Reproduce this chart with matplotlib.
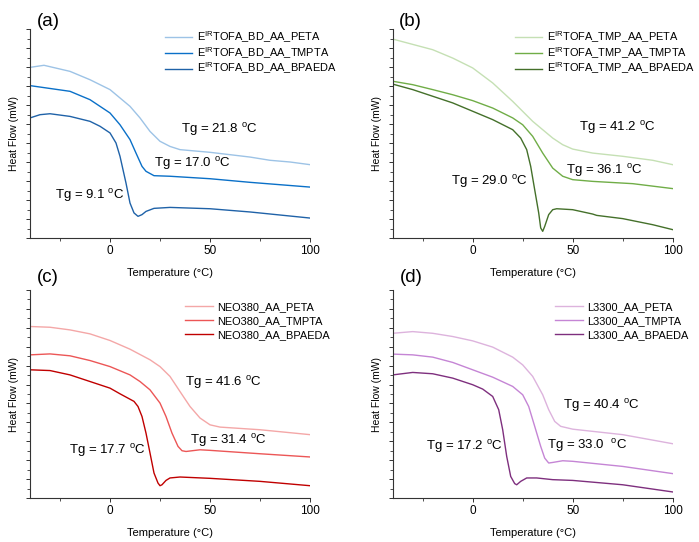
import matplotlib
matplotlib.use("Agg")
import matplotlib.pyplot as plt
from matplotlib.ticker import MultipleLocator

plt.rcParams['font.family'] = ['Liberation Sans', 'DejaVu Sans']
plt.rcParams['mathtext.fontset'] = 'custom'
plt.rcParams['mathtext.rm'] = 'Liberation Sans'
plt.rcParams['mathtext.it'] = 'Liberation Sans:italic'

# ---------------- Panel (a) ----------------
a_peta_T = [-40, -33, -20, -10, 0, 10, 15, 20, 25, 30, 35, 50, 70, 80, 90, 100]
a_peta_y = [8.98, 9.09, 8.77, 8.33, 7.81, 6.93, 6.32, 5.61, 5.09, 4.82, 4.65, 4.51, 4.26, 4.09, 4.0, 3.86]
a_tmpta_T = [-40, -20, -10, 0, 5, 10, 13, 16, 18, 22, 30, 50, 70, 100]
a_tmpta_y = [8.02, 7.72, 7.28, 6.58, 5.96, 5.18, 4.47, 3.77, 3.51, 3.28, 3.25, 3.12, 2.93, 2.68]
a_bpa_T = [-40, -35, -30, -20, -10, -5, 0, 3, 5, 8, 10, 12, 14, 16, 18, 22, 30, 50, 70, 100]
a_bpa_y = [6.32, 6.49, 6.54, 6.40, 6.14, 5.88, 5.53, 5.0, 4.3, 2.89, 1.84, 1.32, 1.14, 1.23, 1.40, 1.56, 1.61, 1.54, 1.37, 1.05]
a_labels = [r'E$^{\mathrm{IR}}$TOFA_BD_AA_PETA', r'E$^{\mathrm{IR}}$TOFA_BD_AA_TMPTA',
            r'E$^{\mathrm{IR}}$TOFA_BD_AA_BPAEDA']
a_tg = ['21.8', '17.0', '9.1']

# ---------------- Panel (b) ----------------
b_peta_T = [-40, -20, -10, 0, 10, 20, 30, 40, 45, 50, 60, 75, 90, 100]
b_peta_y = [10.47, 9.91, 9.47, 8.95, 8.16, 7.19, 6.14, 5.26, 4.91, 4.68, 4.47, 4.30, 4.09, 3.86]
b_tmpta_T = [-40, -30, -20, -10, 0, 10, 20, 25, 30, 35, 40, 45, 50, 60, 80, 100]
b_tmpta_y = [8.25, 8.07, 7.81, 7.54, 7.23, 6.84, 6.32, 5.96, 5.35, 4.47, 3.68, 3.25, 3.07, 2.98, 2.86, 2.60]
b_bpa_T = [-40, -30, -20, -10, 0, 10, 20, 24, 27, 29, 31, 33, 34, 35, 36, 38, 40, 42, 50, 60, 62, 75, 90, 100]
b_bpa_y = [8.10, 7.81, 7.46, 7.11, 6.67, 6.23, 5.70, 5.26, 4.65, 3.77, 2.54, 1.32, 0.53, 0.35, 0.61, 1.23, 1.49, 1.54, 1.49, 1.26, 1.19, 1.02, 0.70, 0.44]
b_labels = [r'E$^{\mathrm{IR}}$TOFA_TMP_AA_PETA', r'E$^{\mathrm{IR}}$TOFA_TMP_AA_TMPTA',
            r'E$^{\mathrm{IR}}$TOFA_TMP_AA_BPAEDA']
b_tg = ['41.2', '36.1', '29.0']

# ---------------- Panel (c) ----------------
c_peta_T = [-40, -30, -20, -10, 0, 10, 20, 25, 30, 35, 40, 45, 50, 55, 75, 100]
c_peta_y = [9.07, 9.03, 8.89, 8.68, 8.33, 7.87, 7.31, 6.95, 6.43, 5.63, 4.84, 4.23, 3.87, 3.75, 3.61, 3.35]
c_tmpta_T = [-40, -30, -20, -10, 0, 10, 15, 20, 25, 28, 31, 34, 36, 38, 45, 50, 75, 100]
c_tmpta_y = [7.57, 7.62, 7.52, 7.27, 6.95, 6.51, 6.16, 5.72, 5.02, 4.31, 3.43, 2.73, 2.50, 2.46, 2.55, 2.52, 2.34, 2.17]
c_bpa_T = [-40, -30, -20, -10, 0, 5, 12, 14, 16, 18, 20, 22, 24, 25, 26, 28, 30, 35, 50, 75, 100]
c_bpa_y = [6.78, 6.74, 6.51, 6.16, 5.81, 5.51, 5.11, 4.84, 4.31, 3.43, 2.38, 1.32, 0.79, 0.65, 0.70, 0.93, 1.06, 1.11, 1.04, 0.88, 0.65]
c_labels = ['NEO380_AA_PETA', 'NEO380_AA_TMPTA', 'NEO380_AA_BPAEDA']
c_tg = ['41.6', '31.4', '17.7']

# ---------------- Panel (d) ----------------
d_peta_T = [-40, -30, -20, -10, 0, 10, 20, 25, 30, 35, 38, 41, 44, 50, 75, 100]
d_peta_y = [8.71, 8.80, 8.71, 8.54, 8.31, 7.98, 7.45, 7.04, 6.43, 5.46, 4.67, 4.05, 3.79, 3.64, 3.35, 2.87]
d_tmpta_T = [-40, -30, -20, -10, 0, 10, 20, 25, 28, 31, 34, 36, 38, 40, 45, 50, 75, 100]
d_tmpta_y = [7.61, 7.57, 7.45, 7.17, 6.78, 6.39, 5.90, 5.46, 4.84, 3.79, 2.73, 2.11, 1.85, 1.88, 1.97, 1.94, 1.67, 1.29]
d_bpa_T = [-40, -30, -20, -10, 0, 5, 10, 13, 15, 17, 19, 21, 22, 24, 27, 32, 40, 50, 75, 100]
d_bpa_y = [6.51, 6.64, 6.57, 6.34, 5.99, 5.76, 5.37, 4.67, 3.61, 2.20, 1.14, 0.76, 0.70, 0.88, 1.06, 1.06, 0.97, 0.93, 0.70, 0.32]
d_labels = ['L3300_AA_PETA', 'L3300_AA_TMPTA', 'L3300_AA_BPAEDA']
d_tg = ['40.4', '33.0 ', '17.2']

panels = [
    dict(tag='(a)', series=[(a_peta_T, a_peta_y), (a_tmpta_T, a_tmpta_y), (a_bpa_T, a_bpa_y)],
         labels=a_labels, colors=['#9DC3E6', '#0A70C8', '#1F62A8'], tg=a_tg,
         tgpos=[(35.3, 5.7), (22, 3.9), (-27.5, 2.23)],
         rect=[30, 29, 280, 209], legx=0.482, legy=0.997, legsp=0.0, tagpos=(37, 22)),
    dict(tag='(b)', series=[(b_peta_T, b_peta_y), (b_tmpta_T, b_tmpta_y), (b_bpa_T, b_bpa_y)],
         labels=b_labels, colors=['#C5E0B4', '#70AD47', '#44702A'], tg=b_tg,
         tgpos=[(53, 5.84), (46.7, 3.54), (-10.8, 2.98)],
         rect=[392.7, 29, 280, 209], legx=0.437, legy=0.997, legsp=0.0, tagpos=(399, 22)),
    dict(tag='(c)', series=[(c_peta_T, c_peta_y), (c_tmpta_T, c_tmpta_y), (c_bpa_T, c_bpa_y)],
         labels=c_labels, colors=['#F4A7A7', '#EC5656', '#C00000'], tg=c_tg,
         tgpos=[(37.5, 6.11), (40, 3.03), (-20.5, 2.5)],
         rect=[30, 290, 280, 208], legx=0.554, legy=0.942, legsp=0.35, tagpos=(37, 278)),
    dict(tag='(d)', series=[(d_peta_T, d_peta_y), (d_tmpta_T, d_tmpta_y), (d_bpa_T, d_bpa_y)],
         labels=d_labels, colors=['#DDB3DD', '#C585D5', '#7E2F7E'], tg=d_tg,
         tgpos=[(45, 4.88), (37, 2.76), (-23.3, 2.73)],
         rect=[392.7, 290, 280, 208], legx=0.58, legy=0.942, legsp=0.35, tagpos=(400, 278)),
]

W, H = 699, 542
fig = plt.figure(figsize=(W / 100, H / 100), dpi=100)

for p in panels:
    l, t, w, h = p['rect']
    ax = fig.add_axes([l / W, 1 - (t + h) / H, w / W, h / H])
    for (T, y), lab, col in zip(p['series'], p['labels'], p['colors']):
        ax.plot(T, y, color=col, lw=1.0, label=lab)
    ax.set_xlim(-40, 100)
    ax.set_ylim(0, 11)
    for s in ['top', 'right']:
        ax.spines[s].set_visible(False)
    for s in ['left', 'bottom']:
        ax.spines[s].set_linewidth(0.8)
        ax.spines[s].set_color('#333333')
    ax.xaxis.set_major_locator(MultipleLocator(50))
    ax.xaxis.set_minor_locator(MultipleLocator(25))
    ax.yaxis.set_major_locator(MultipleLocator(1))
    ax.yaxis.set_minor_locator(MultipleLocator(0.5))
    ax.tick_params(axis='both', which='major', direction='out', length=3, width=0.7,
                   labelsize=8.5, color='#333333', pad=2)
    ax.tick_params(axis='both', which='minor', direction='out', length=2, width=0.6, color='#333333')
    ax.tick_params(axis='y', which='both', labelleft=False)
    ax.set_xlabel('Temperature (°C)', fontsize=8, labelpad=8)
    ax.set_ylabel('Heat Flow (mW)', fontsize=7.5, labelpad=5)
    for txt, (tx, ty) in zip(p['tg'], p['tgpos']):
        ax.text(tx, ty, 'Tg = ' + txt + r' $^{\mathrm{o}}$C', fontsize=9.5, ha='left', va='center')
    ax.legend(loc='upper left', bbox_to_anchor=(p['legx'], p['legy']), frameon=False,
              fontsize=7.9, handlelength=2.5, handletextpad=0.4, labelspacing=p['legsp'],
              borderpad=0, borderaxespad=0)
    fig.text(p['tagpos'][0] / W, 1 - p['tagpos'][1] / H, p['tag'], fontsize=13.5,
             ha='left', va='center')

fig.savefig('out.png', dpi=100)
